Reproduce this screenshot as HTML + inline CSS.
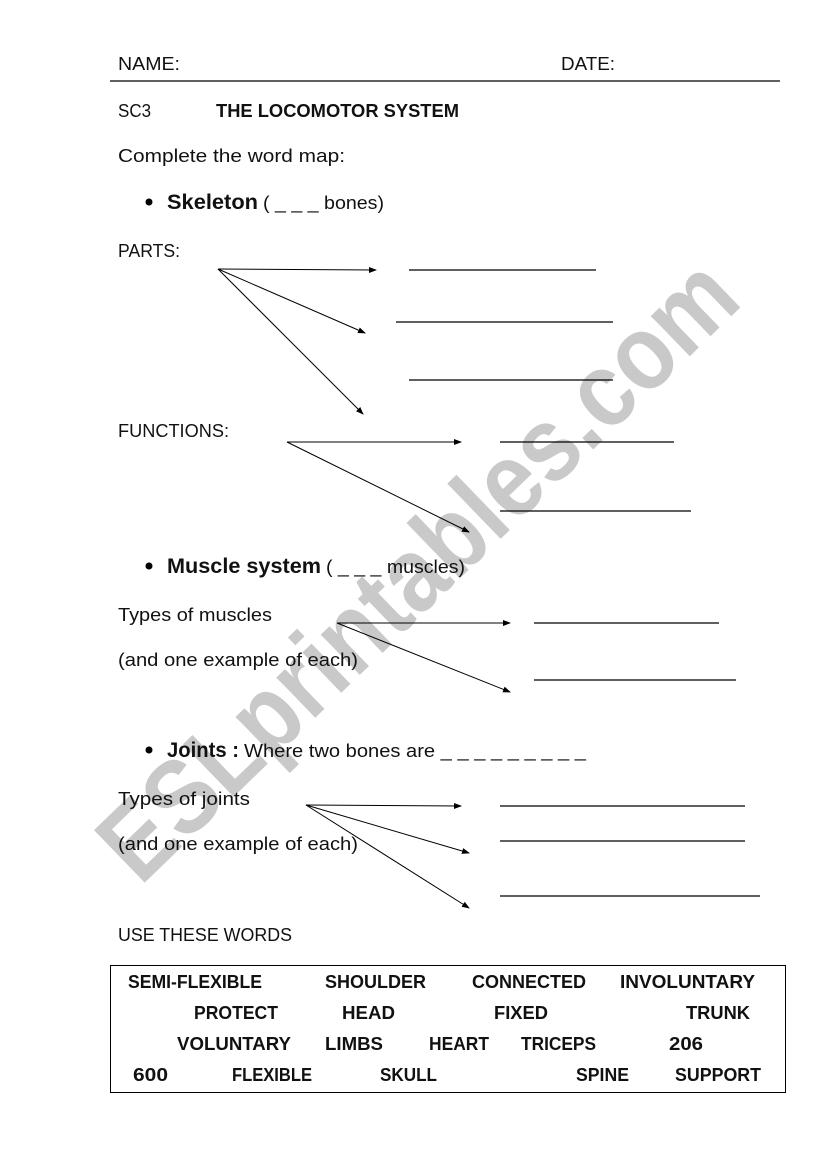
<!DOCTYPE html>
<html><head><meta charset="utf-8"><style>
html,body{margin:0;padding:0;background:#fff;}
svg{display:block;}
text{font-family:"Liberation Sans",Arial,sans-serif;fill:#111;}
.b{font-weight:bold;}
</style></head><body>
<svg width="826" height="1169" viewBox="0 0 826 1169" xmlns="http://www.w3.org/2000/svg">
<defs>
<marker id="ah" markerWidth="8" markerHeight="8" refX="7" refY="4" orient="auto" markerUnits="userSpaceOnUse">
<path d="M0,1 L8,4 L0,7 Z" fill="#000"/>
</marker>
</defs>
<rect width="826" height="1169" fill="#fff"/>
<!-- watermark -->
<text x="418" y="605" transform="rotate(-44 418 570)" text-anchor="middle" font-size="106" class="b" style="fill:#c9c9c9" textLength="840" lengthAdjust="spacingAndGlyphs">ESLprintables.com</text>

<g font-size="18">
<text x="118" y="70" textLength="62" lengthAdjust="spacingAndGlyphs">NAME:</text>
<text x="561" y="70" textLength="54" lengthAdjust="spacingAndGlyphs">DATE:</text>
<line x1="110" y1="81" x2="780" y2="81" stroke="#000" stroke-width="1.2"/>
<text x="118" y="117" textLength="33" lengthAdjust="spacingAndGlyphs">SC3</text>
<text x="216" y="117" class="b" textLength="243" lengthAdjust="spacingAndGlyphs">THE LOCOMOTOR SYSTEM</text>
<text x="118" y="162" textLength="227" lengthAdjust="spacingAndGlyphs">Complete the word map:</text>
<circle cx="149" cy="202" r="3.5" fill="#000"/>
<text x="167" y="209" class="b" font-size="21" textLength="91" lengthAdjust="spacingAndGlyphs">Skeleton</text>
<text x="263" y="209" textLength="121" lengthAdjust="spacingAndGlyphs">( _ _ _ bones)</text>
<text x="118" y="257" textLength="62" lengthAdjust="spacingAndGlyphs">PARTS:</text>
<text x="118" y="437" textLength="111" lengthAdjust="spacingAndGlyphs">FUNCTIONS:</text>
<circle cx="149" cy="566" r="3.5" fill="#000"/>
<text x="167" y="573" class="b" font-size="21" textLength="154" lengthAdjust="spacingAndGlyphs">Muscle system</text>
<text x="326" y="573" textLength="139" lengthAdjust="spacingAndGlyphs">( _ _ _ muscles)</text>
<text x="118" y="621" textLength="154" lengthAdjust="spacingAndGlyphs">Types of muscles</text>
<text x="118" y="666" textLength="240" lengthAdjust="spacingAndGlyphs">(and one example of each)</text>
<circle cx="149" cy="750" r="3.5" fill="#000"/>
<text x="167" y="757" class="b" font-size="21" textLength="72" lengthAdjust="spacingAndGlyphs">Joints :</text>
<text x="244" y="757" textLength="342" lengthAdjust="spacingAndGlyphs">Where two bones are _ _ _ _ _ _ _ _ _</text>
<text x="118" y="805" textLength="132" lengthAdjust="spacingAndGlyphs">Types of joints</text>
<text x="118" y="850" textLength="240" lengthAdjust="spacingAndGlyphs">(and one example of each)</text>
<text x="118" y="941" textLength="174" lengthAdjust="spacingAndGlyphs">USE THESE WORDS</text>
</g>

<g stroke="#000" stroke-width="1" fill="none">
<line x1="218" y1="269" x2="376" y2="270" marker-end="url(#ah)"/>
<line x1="218" y1="269" x2="365" y2="333" marker-end="url(#ah)"/>
<line x1="218" y1="269" x2="363" y2="414" marker-end="url(#ah)"/>
<line x1="287" y1="442" x2="461" y2="442" marker-end="url(#ah)"/>
<line x1="287" y1="442" x2="469" y2="532" marker-end="url(#ah)"/>
<line x1="337" y1="623" x2="510" y2="623" marker-end="url(#ah)"/>
<line x1="337" y1="623" x2="510" y2="692" marker-end="url(#ah)"/>
<line x1="306" y1="805" x2="461" y2="806" marker-end="url(#ah)"/>
<line x1="306" y1="805" x2="469" y2="853" marker-end="url(#ah)"/>
<line x1="306" y1="805" x2="469" y2="908" marker-end="url(#ah)"/>
</g>
<g stroke="#000" stroke-width="1.2">
<line x1="409" y1="270" x2="596" y2="270"/>
<line x1="396" y1="322" x2="613" y2="322"/>
<line x1="409" y1="380" x2="613" y2="380"/>
<line x1="500" y1="442" x2="674" y2="442"/>
<line x1="500" y1="511" x2="691" y2="511"/>
<line x1="534" y1="623" x2="719" y2="623"/>
<line x1="534" y1="680" x2="736" y2="680"/>
<line x1="500" y1="806" x2="745" y2="806"/>
<line x1="500" y1="841" x2="745" y2="841"/>
<line x1="500" y1="896" x2="760" y2="896"/>
</g>
<rect x="110.5" y="965.5" width="675" height="127" fill="none" stroke="#000" stroke-width="1"/>
<g font-size="18" class="b">
<text x="128" y="988" class="b" textLength="134" lengthAdjust="spacingAndGlyphs">SEMI-FLEXIBLE</text>
<text x="325" y="988" class="b" textLength="101" lengthAdjust="spacingAndGlyphs">SHOULDER</text>
<text x="472" y="988" class="b" textLength="114" lengthAdjust="spacingAndGlyphs">CONNECTED</text>
<text x="620" y="988" class="b" textLength="135" lengthAdjust="spacingAndGlyphs">INVOLUNTARY</text>
<text x="194" y="1019" class="b" textLength="84" lengthAdjust="spacingAndGlyphs">PROTECT</text>
<text x="342" y="1019" class="b" textLength="53" lengthAdjust="spacingAndGlyphs">HEAD</text>
<text x="494" y="1019" class="b" textLength="54" lengthAdjust="spacingAndGlyphs">FIXED</text>
<text x="686" y="1019" class="b" textLength="64" lengthAdjust="spacingAndGlyphs">TRUNK</text>
<text x="177" y="1050" class="b" textLength="114" lengthAdjust="spacingAndGlyphs">VOLUNTARY</text>
<text x="325" y="1050" class="b" textLength="58" lengthAdjust="spacingAndGlyphs">LIMBS</text>
<text x="429" y="1050" class="b" textLength="60" lengthAdjust="spacingAndGlyphs">HEART</text>
<text x="521" y="1050" class="b" textLength="75" lengthAdjust="spacingAndGlyphs">TRICEPS</text>
<text x="669" y="1050" class="b" textLength="34" lengthAdjust="spacingAndGlyphs">206</text>
<text x="133" y="1081" class="b" textLength="35" lengthAdjust="spacingAndGlyphs">600</text>
<text x="232" y="1081" class="b" textLength="80" lengthAdjust="spacingAndGlyphs">FLEXIBLE</text>
<text x="380" y="1081" class="b" textLength="57" lengthAdjust="spacingAndGlyphs">SKULL</text>
<text x="576" y="1081" class="b" textLength="53" lengthAdjust="spacingAndGlyphs">SPINE</text>
<text x="675" y="1081" class="b" textLength="86" lengthAdjust="spacingAndGlyphs">SUPPORT</text>
</g>
</svg>
</body></html>
